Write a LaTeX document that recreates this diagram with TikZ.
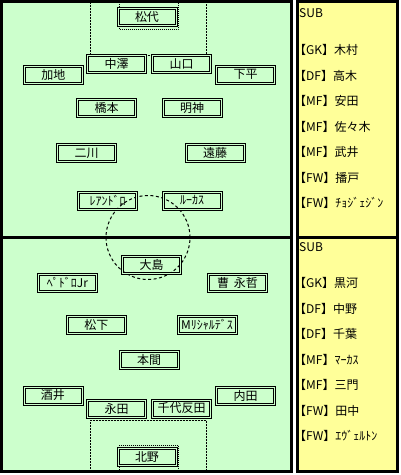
\documentclass[tikz,border=0pt]{standalone}
\usepackage{fontspec}
\setmainfont{Noto Sans CJK JP}
\definecolor{pitchGreen}{HTML}{CCFFCC}
\definecolor{benchYellow}{HTML}{FFFF99}

\tikzset{
  player/.style={draw, line width=1pt, double=pitchGreen, double distance=1pt,
    minimum width=58pt, minimum height=17pt, inner sep=0pt,
    font=\fontsize{12}{13}\selectfont},
  benchname/.style={anchor=west, inner sep=0pt, font=\fontsize{12}{13}\selectfont},
  arealine/.style={line width=1pt, dash pattern=on 2pt off 1pt},
  goalline/.style={line width=1pt, dash pattern=on 1pt off 1pt},
}

\begin{document}
\begin{tikzpicture}[x=1pt, y=-1pt]
    \useasboundingbox (0,0) rectangle (401,475);
    \def\cx{148}
    \def\cy{237.5}

    % ---------- pitch ----------
    \fill[pitchGreen] (1.5,1.5) rectangle (291.5,471.5);
    \draw[arealine] (90,1.5) -- (90,55) -- (206,55) -- (206,1.5);
    \draw[goalline] (119,1.5) -- (119,29) -- (178,29) -- (178,1.5);
    \draw[arealine] (90,471.5) -- (90,420) -- (206,420) -- (206,471.5);
    \draw[goalline] (119,471.5) -- (119,445) -- (178,445) -- (178,471.5);
    \draw[line width=1pt, dash pattern=on 3pt off 2.5pt] (\cx,\cy) circle[radius=42pt];
    \draw[line width=3pt] (1.5,1.5) rectangle (291.5,471.5);
    \draw[line width=3pt] (1.5,\cy) -- (291.5,\cy);

    % ---------- bench ----------
    \fill[benchYellow] (297.5,1.5) rectangle (397.5,471.5);
    \draw[line width=2.5pt] (297.5,1.5) rectangle (397.5,471.5);
    \draw[line width=3pt] (297.5,\cy) -- (397.5,\cy);

    % ---------- upper team ----------
    \foreach \n/\x/\y/\t in {uGK/147/17/松代, uDa/116.5/63.5/中澤, uDb/181.5/63.5/山口,
        uDl/53.5/74.5/加地, uDr/245.5/74.5/下平, uMa/106.5/107.5/橋本, uMb/192/107.5/明神,
        uMl/86.5/153/二川, uMr/215/153/遠藤, uFa/107.5/200.5/ﾚｱﾝﾄﾞﾛ, uFb/192/200.5/ﾙｰｶｽ}
        \node[player] (\n) at (\x,\y) {\t};

    % ---------- lower team ----------
    \foreach \n/\x/\y/\t in {lFa/151.5/265/大島, lMl/67.5/283/ﾍﾟﾄﾞﾛJr, lMr/237.5/283/{曹\hspace{5pt}永哲},
        lMa/96.5/325/松下, lMb/207/325/Mﾘｼｬﾙﾃﾞｽ, lMc/149/360/本間, lDl/53/395.5/酒井,
        lDa/116.5/409/永田, lDb/181.5/408.5/千代反田, lDr/245.5/396/内田, lGK/147/457/北野}
        \node[player] (\n) at (\x,\y) {\t};

    % ---------- substitutes ----------
    \node[benchname] (uSub) at (299,13) {SUB};
    \foreach \t [count=\i] in {【GK】木村, 【DF】高木, 【MF】安田, 【MF】佐々木,
        【MF】武井, 【FW】播戸, 【FW】ﾁｮｼﾞｪｼﾞﾝ}
        \node[benchname] (uSub\i) at (294,{50+25.5*(\i-1)}) {\t};
    \node[benchname] (lSub) at (299,247) {SUB};
    \foreach \t [count=\i] in {【GK】黒河, 【DF】中野, 【DF】千葉, 【MF】ﾏｰｶｽ,
        【MF】三門, 【FW】田中, 【FW】ｴｳﾞｪﾙﾄﾝ}
        \node[benchname] (lSub\i) at (294,{283+25.5*(\i-1)}) {\t};
\end{tikzpicture}
\end{document}
